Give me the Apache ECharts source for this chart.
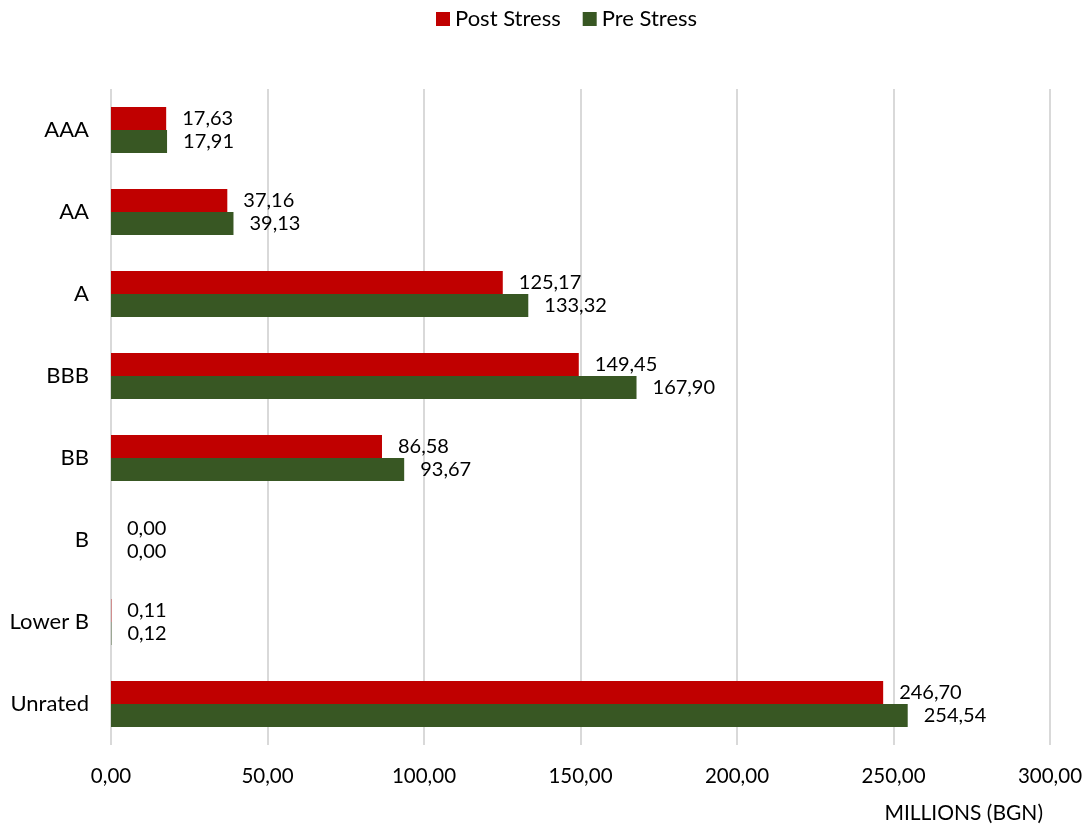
<!DOCTYPE html>
<html>
<head>
<meta charset="utf-8">
<script src="https://cdn.jsdelivr.net/npm/echarts@6/dist/echarts.min.js"></script>
<style>
  html, body { margin: 0; padding: 0; background: #ffffff; }
  #chart { width: 1091px; height: 827px; }
</style>
</head>
<body>
<div id="chart"></div>
<script>
// Rating buckets, top to bottom
const categories = ['AAA', 'AA', 'A', 'BBB', 'BB', 'B', 'Lower B', 'Unrated'];
// Exposure in millions of BGN
const postStress = [17.63, 37.16, 125.17, 149.45, 86.58, 0.00, 0.11, 246.70];
const preStress  = [17.91, 39.13, 133.32, 167.90, 93.67, 0.00, 0.12, 254.54];
const xTicks = { min: 0, max: 300, interval: 50 };

const FONT = 'Lato, "Open Sans", sans-serif';
const fmt = v => Number(v).toFixed(2).replace('.', ',');

const chart = echarts.init(document.getElementById('chart'));

const labelStyle = {
  show: true,
  position: 'right',
  distance: 16,
  color: '#000000',
  fontFamily: FONT,
  fontSize: 20,
  formatter: p => fmt(p.value)
};

chart.setOption({
  animation: false,
  backgroundColor: '#ffffff',
  textStyle: { fontFamily: FONT },
  legend: {
    top: 3,
    left: 431,
    itemWidth: 14,
    itemHeight: 14,
    itemGap: 22,
    icon: 'rect',
    textStyle: { fontFamily: FONT, fontSize: 22, color: '#000000' },
    data: ['Post Stress', 'Pre Stress']
  },
  grid: { left: 111, right: 41, top: 89, bottom: 82, containLabel: false },
  xAxis: {
    type: 'value',
    min: xTicks.min,
    max: xTicks.max,
    interval: xTicks.interval,
    axisLine: { show: false },
    axisTick: { show: false },
    splitLine: { show: true, lineStyle: { color: '#d9d9d9', width: 2 } },
    axisLabel: {
      margin: 21,
      fontFamily: FONT,
      fontSize: 20.5,
      color: '#000000',
      formatter: v => fmt(v)
    }
  },
  yAxis: {
    type: 'category',
    inverse: true,
    data: categories,
    axisLine: { show: false },
    axisTick: { show: false },
    axisLabel: { margin: 22, fontFamily: FONT, fontSize: 22, color: '#000000' }
  },
  graphic: [{
    type: 'text',
    right: 48,
    top: 803,
    style: { text: 'MILLIONS (BGN)', fontFamily: FONT, fontSize: 21, fill: '#000000' }
  }],
  series: [
    {
      name: 'Post Stress',
      type: 'bar',
      data: postStress,
      barWidth: 23,
      barGap: '0%',
      itemStyle: { color: '#c00000' },
      label: labelStyle
    },
    {
      name: 'Pre Stress',
      type: 'bar',
      data: preStress,
      barWidth: 23,
      barGap: '0%',
      itemStyle: { color: '#385723' },
      label: labelStyle
    }
  ]
});
</script>
</body>
</html>
